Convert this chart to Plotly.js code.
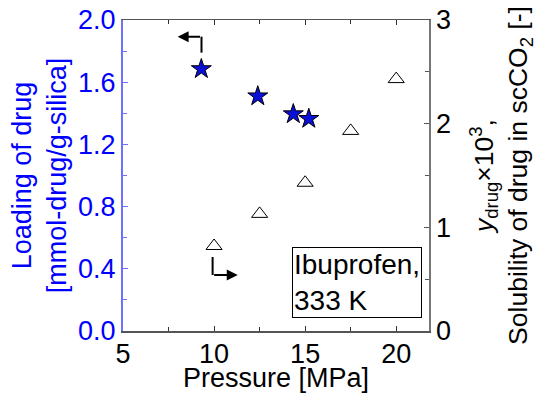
<!DOCTYPE html>
<html>
<head>
<meta charset="utf-8">
<script src="https://cdn.plot.ly/plotly-3.0.1.min.js"></script>
<style>html,body{margin:0;padding:0;background:#fff;}#chart{width:538px;height:393px;}</style>
</head>
<body>
<div id="chart"></div>
<script>
// Loading of drug (left axis)
const loadPressure = [9.3, 12.4, 14.35, 15.2];
const loadValues = [1.685, 1.51, 1.395, 1.365];
// Solubility y_drug x 10^3 (right axis)
const solPressure = [10, 12.5, 15, 17.5, 20];
const solValues = [0.82, 1.13, 1.43, 1.93, 2.43];

const xTicks = [5, 10, 15, 20];
const yLeftTicks = [0, 0.4, 0.8, 1.2, 1.6, 2.0];
const yRightTicks = [0, 1, 2, 3];

const FONT = 'Liberation Sans, Arial, sans-serif';
const FS = 27;
const BLUE = '#0000ff';

const traces = [
  {
    x: loadPressure, y: loadValues, type: 'scatter', mode: 'markers', yaxis: 'y',
    marker: {symbol: 'star', size: 15, color: '#0a10d8', line: {color: '#000', width: 1}},
    cliponaxis: false, showlegend: false
  },
  {
    x: solPressure, y: solValues, type: 'scatter', mode: 'markers', yaxis: 'y2',
    marker: {symbol: 'triangle-up-open', size: 14, color: '#000', line: {color: '#000', width: 1}},
    cliponaxis: false, showlegend: false
  }
];

const layout = {
  width: 538, height: 393,
  margin: {l: 123, r: 109, t: 20, b: 62},
  paper_bgcolor: '#fff', plot_bgcolor: '#fff',
  font: {family: FONT, size: FS, color: '#000'},
  showlegend: false,
  xaxis: {
    range: [5, 21.8], tickvals: xTicks, ticktext: xTicks.map(String),
    ticks: 'inside', ticklen: 5, tickcolor: '#333', mirror: 'ticks',
    showline: true, linecolor: '#555', linewidth: 1.5,
    showgrid: false, zeroline: false, ticklabelstandoff: -2,
    minor: {dtick: 2.5, tick0: 5, ticks: 'inside', ticklen: 4, tickcolor: '#333'},
    tickfont: {family: FONT, size: FS, color: '#000'},
    title: {text: 'Pressure [MPa]', font: {family: FONT, size: FS, color: '#000'}, standoff: 0}
  },
  yaxis: {
    range: [0, 2.0], tickvals: yLeftTicks, ticktext: yLeftTicks.map(v => v.toFixed(1)),
    ticks: 'inside', ticklen: 5, tickcolor: '#6f6fff',
    showline: true, linecolor: '#7070ff', linewidth: 2,
    showgrid: false, zeroline: false,
    minor: {dtick: 0.2, ticks: 'inside', ticklen: 4, tickcolor: '#6f6fff'},
    tickfont: {family: FONT, size: FS, color: BLUE},
    title: {text: 'Loading of drug<br>[mmol-drug/g-silica]', font: {family: FONT, size: FS, color: BLUE}, standoff: 4}
  },
  yaxis2: {
    overlaying: 'y', side: 'right', anchor: 'x',
    range: [0, 3], tickvals: yRightTicks, ticktext: yRightTicks.map(String),
    ticks: 'inside', ticklen: 5, tickcolor: '#555',
    showline: true, linecolor: '#777', linewidth: 1.5,
    showgrid: false, zeroline: false,
    minor: {dtick: 0.5, ticks: 'inside', ticklen: 4, tickcolor: '#555'},
    tickfont: {family: FONT, size: FS, color: '#000'},
    title: {text: '<i>y</i><sub>drug</sub>×10<sup>3</sup>,<br>Solubility of drug in scCO<sub>2</sub> [-]', font: {family: FONT, size: 26.5, color: '#000'}, standoff: 24}
  },
  shapes: [
    {type: 'line', xref: 'x', yref: 'y', x0: 9.31, x1: 9.31, y0: 1.79, y1: 1.893, line: {color: '#000', width: 2}},
    {type: 'line', xref: 'x', yref: 'y2', x0: 9.92, x1: 9.92, y0: 0.714, y1: 0.54, line: {color: '#000', width: 2}}
  ],
  annotations: [
    {xref: 'x', yref: 'y', axref: 'x', ayref: 'y', x: 8.0, y: 1.893, ax: 9.31, ay: 1.893,
     text: '', showarrow: true, arrowhead: 2, arrowsize: 1.1, arrowwidth: 2, arrowcolor: '#000'},
    {xref: 'x', yref: 'y2', axref: 'x', ayref: 'y2', x: 11.3, y: 0.54, ax: 9.92, ay: 0.54,
     text: '', showarrow: true, arrowhead: 2, arrowsize: 1.1, arrowwidth: 2, arrowcolor: '#000'},
    {xref: 'paper', yref: 'paper', x: 0.551, y: 0.271, xanchor: 'left', yanchor: 'top',
     text: 'Ibuprofen,<br>333 K', align: 'left', showarrow: false,
     font: {family: FONT, size: 28, color: '#000'},
     bgcolor: '#fff', bordercolor: '#000', borderwidth: 1, borderpad: 1}
  ]
};

Plotly.newPlot('chart', traces, layout, {displayModeBar: false, staticPlot: true});
</script>
</body>
</html>
